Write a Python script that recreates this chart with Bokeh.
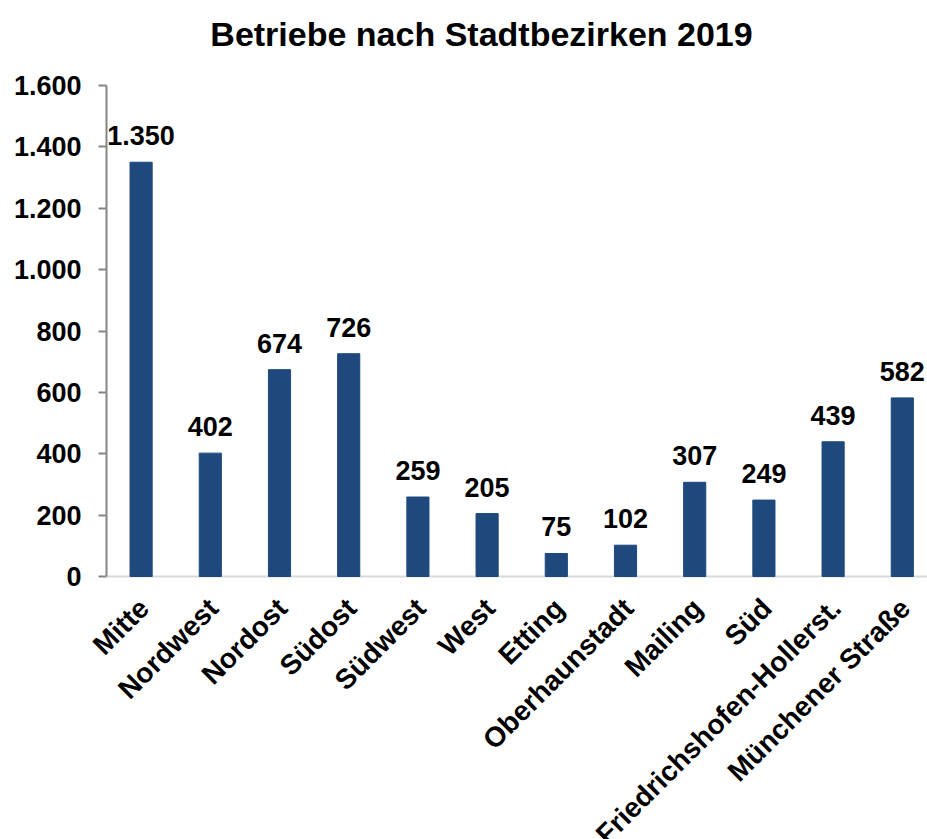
import math
from bokeh.plotting import figure
from bokeh.models import ColumnDataSource, FixedTicker, Range1d, LabelSet, Label, Span
from bokeh.core.properties import value
from bokeh.embed import file_html
from bokeh.resources import INLINE

title_text = "Betriebe nach Stadtbezirken 2019"
categories = ["Mitte", "Nordwest", "Nordost", "Südost", "Südwest", "West", "Etting",
              "Oberhaunstadt", "Mailing", "Süd", "Friedrichshofen-Hollerst.", "Münchener Straße"]
values = [1350, 402, 674, 726, 259, 205, 75, 102, 307, 249, 439, 582]
y_ticks = [0, 200, 400, 600, 800, 1000, 1200, 1400, 1600]


def de_fmt(v):
    return f"{v:,}".replace(",", ".")


FONT = "Liberation Sans"
BAR = "#1F497D"

W, H = 927, 839
AXIS_X = 106                  # pixel column of the value axis line
AX_TOP, AX_BOTTOM = 85, 576   # pixel rows of the 1600 and 0 ticks
px_per_unit = (AX_BOTTOM - AX_TOP) / (y_ticks[-1] - y_ticks[0])
y_end = y_ticks[-1] + AX_TOP / px_per_unit
y_start = y_ticks[0] - (H - AX_BOTTOM) / px_per_unit

x_first = -0.5
x_last = 11.364
px_per_cat = (W - AXIS_X) / (x_last - x_first)
x_start = x_first - AXIS_X / px_per_cat

xs = list(range(len(categories)))
src = ColumnDataSource(dict(x=xs, v=values, lab=[de_fmt(v) for v in values],
                            cat=categories, base=[y_ticks[0]] * len(xs)))

p = figure(width=W, height=H, output_backend="svg", toolbar_location=None,
           x_range=Range1d(x_start, x_last), y_range=Range1d(y_start, y_end),
           min_border_left=0, min_border_right=0, min_border_top=0, min_border_bottom=0)
p.outline_line_color = None
p.xgrid.visible = False
p.ygrid.visible = False
p.xaxis.visible = False
p.background_fill_color = "white"
p.border_fill_color = "white"

# category axis line at 0 (from the value axis to the right edge)
p.segment(x0=[x_first], y0=[y_ticks[0]], x1=[x_last], y1=[y_ticks[0]],
          line_color="#D9D9D9", line_width=2)

p.vbar(x="x", top="v", width=0.32, source=src, color=BAR, line_color=BAR)

# title (screen units)
p.add_layout(Label(x=481, y=H - 33, x_units="screen", y_units="screen", text=title_text,
                   text_align="center", text_baseline="alphabetic", text_font=FONT,
                   text_font_size="34px", text_font_style="bold", text_color="black"))

# value labels
p.add_layout(LabelSet(x="x", y="v", text="lab", source=src, text_align="center",
                      text_baseline="alphabetic", y_offset=17, text_font=value(FONT),
                      text_font_size=value("27px"), text_font_style="bold", text_color="black"))

# category labels (rotated)
p.add_layout(LabelSet(x="x", y="base", text="cat", source=src, angle=math.pi / 4,
                      text_align="right", text_baseline="middle", x_offset=3, y_offset=-27,
                      text_font=value(FONT), text_font_size=value("28px"),
                      text_font_style="bold", text_color="black"))

# y axis, drawn at the first category edge
p.yaxis.fixed_location = x_first
p.yaxis.ticker = FixedTicker(ticks=y_ticks)
p.yaxis.bounds = (y_ticks[0], y_ticks[-1])
p.yaxis.major_label_overrides = {t_: de_fmt(t_) for t_ in y_ticks}
p.yaxis.axis_line_color = "#868686"
p.yaxis.axis_line_width = 2
p.yaxis.major_tick_line_color = "#868686"
p.yaxis.major_tick_line_width = 2
p.yaxis.major_tick_out = 8
p.yaxis.major_tick_in = 0
p.yaxis.minor_tick_line_color = None
p.yaxis.major_label_standoff = 17
p.yaxis.major_label_text_font = FONT
p.yaxis.major_label_text_font_size = "27px"
p.yaxis.major_label_text_font_style = "bold"
p.yaxis.major_label_text_color = "black"

open("out.html", "w").write(file_html(p, INLINE))
